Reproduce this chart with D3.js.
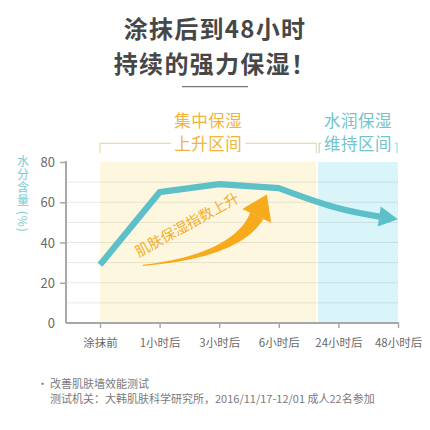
<!DOCTYPE html>
<html>
<head>
<meta charset="utf-8">
<script src="https://cdn.jsdelivr.net/npm/d3@7"></script>
<style>
  html, body { margin: 0; padding: 0; background: #fff; }
  svg { display: block; font-family: "Noto Sans CJK SC", "Noto Sans", sans-serif; }
</style>
</head>
<body>
<svg id="chart" width="430" height="430"></svg>
<script>
// data
const titleLines = ["涂抹后到48小时", "持续的强力保湿！"];
const categories = ["涂抹前", "1小时后", "3小时后", "6小时后", "24小时后", "48小时后"];
const moisture = [29, 65, 69, 67, 57, 51.5];
const yTicks = [0, 20, 40, 60, 80];
const gridValues = [10, 20, 30, 40, 50, 60, 70];
const phaseLabels = [["集中保湿", "上升区间"], ["水润保湿", "维持区间"]];
const phaseBounds = [[0, 3.63], [3.66, 5]]; // in category index units
const yLabel = "水分含量 (%)";
const arrowLabel = "肌肤保湿指数上升";
const footLines = ["改善肌肤墙效能测试", "测试机关：大韩肌肤科学研究所，2016/11/17-12/01 成人22名参加"];

const teal = "#5dbfc8", orange = "#f6aa1c";
const svg = d3.select("#chart");

const x = d3.scalePoint().domain(categories).range([100, 398]);
const xi = d3.scaleLinear().domain([0, categories.length - 1]).range([100, 398]);
const y = d3.scaleLinear().domain([0, 80]).range([323, 162]);

// title
svg.selectAll("text.title").data(titleLines).join("text")
  .attr("class", "title")
  .attr("x", 215).attr("y", (d, i) => 27 + i * 35.5)
  .attr("text-anchor", "middle").attr("dominant-baseline", "central")
  .attr("font-size", 24).attr("font-weight", 700).attr("letter-spacing", 1.3)
  .attr("fill", "#474747").text(d => d);
svg.append("line").attr("x1", 182).attr("x2", 248).attr("y1", 86.7).attr("y2", 86.7)
  .attr("stroke", "#777").attr("stroke-width", 1.3);

// phase backgrounds
const phaseFill = ["#fef7df", "#daf5f9"];
const phaseStroke = ["#f0dba6", "#a8dde3"];
const phaseText = ["#f2b43a", "#72c4cc"];
svg.selectAll("rect.phase").data(phaseBounds).join("rect")
  .attr("class", "phase")
  .attr("x", d => xi(d[0])).attr("width", d => xi(d[1]) - xi(d[0]))
  .attr("y", y(80)).attr("height", y(0) - y(80))
  .attr("fill", (d, i) => phaseFill[i]);

// brackets + labels
const by = 143.3;
phaseBounds.forEach((b, i) => {
  const x0 = xi(b[0]) + (i ? 1 : 0), x1 = xi(b[1]) - (i ? 1 : 0);
  const cx = (x0 + x1) / 2, half = 37;
  const g = svg.append("g").attr("stroke", phaseStroke[i]).attr("stroke-width", 1.2).attr("fill", "none");
  g.append("path").attr("d", `M${x0},${by + 10}V${by}H${cx - half}M${cx + half},${by}H${x1}V${by + 10}`);
  svg.selectAll(null).data(phaseLabels[i]).join("text")
    .attr("x", cx).attr("y", (d, j) => 120 + j * 23.3)
    .attr("text-anchor", "middle").attr("dominant-baseline", "central")
    .attr("font-size", 16.5).attr("letter-spacing", 0.5)
    .attr("fill", phaseText[i]).text(d => d);
});

// grid
svg.selectAll("line.grid").data(gridValues).join("line")
  .attr("class", "grid")
  .attr("x1", 66).attr("x2", 398).attr("y1", d => y(d)).attr("y2", d => y(d))
  .attr("stroke", "#000").attr("stroke-opacity", 0.09).attr("stroke-width", 1);

// axes
const yAxis = svg.append("g").attr("transform", "translate(66,0)")
  .call(d3.axisLeft(y).tickValues(yTicks).tickSize(6).tickPadding(5).tickSizeOuter(0));
const xAxis = svg.append("g").attr("transform", `translate(0,${y(0)})`)
  .call(d3.axisBottom(x).tickSize(5).tickPadding(11).tickSizeOuter(0));
[yAxis, xAxis].forEach(a => {
  a.select(".domain").attr("stroke", "#a8a8a8").attr("stroke-width", 2);
  a.selectAll(".tick line").attr("stroke", "#a8a8a8").attr("stroke-width", 1.5);
  a.selectAll("text").attr("fill", "#6a6a6a").attr("font-family", "\"Noto Sans CJK SC\", sans-serif");
});
yAxis.select(".domain").attr("d", `M0,${y(80) - 1}V${y(0)}`);
xAxis.select(".domain").attr("d", `M66,0H${x(categories[5]) + 1}`);
yAxis.selectAll("text").attr("font-size", 13).attr("dy", "0.35em");
xAxis.selectAll("text").attr("font-size", 11.5);
yAxis.selectAll(".tick").filter(d => d === 0).select("line").remove();

// y label, vertical (latin unit turns sideways)
svg.append("text")
  .attr("x", 23).attr("y", 155)
  .attr("writing-mode", "vertical-rl")
  .attr("font-size", 12).attr("letter-spacing", 1)
  .attr("fill", "#7ccbd1").text(yLabel);

// moisture line: straight rise, smooth fall
const pts = moisture.map((v, i) => [x(categories[i]), y(v)]);
const d1 = d3.line().curve(d3.curveLinear)(pts.slice(0, 4));
const d2 = d3.line().curve(d3.curveMonotoneX)(pts.slice(3));
const line = svg.append("path")
  .attr("d", d1 + d2.replace(/^M[^CL]*/, ""))
  .attr("fill", "none").attr("stroke", teal).attr("stroke-width", 6.3)
  .attr("stroke-linejoin", "round");
const L = line.node().getTotalLength();
const headLen = 19, headHalf = 10;
line.attr("stroke-dasharray", `${L - headLen + 2} ${L}`);
const pEnd = line.node().getPointAtLength(L);
const pBack = line.node().getPointAtLength(L - headLen);
const ang = Math.atan2(pEnd.y - pBack.y, pEnd.x - pBack.x);
const nx = -Math.sin(ang), ny = Math.cos(ang);
svg.append("path")
  .attr("d", d3.line()([
    [pEnd.x, pEnd.y],
    [pBack.x + nx * headHalf, pBack.y + ny * headHalf],
    [pBack.x - nx * headHalf, pBack.y - ny * headHalf]
  ]) + "Z")
  .attr("fill", teal);

// orange rising arrow (data units: [index, value])
const aTail = [0.72, 28.6], aCtrl = [2.28, 33.4], aBase = [2.63, 53.2], aTip = [2.80, 63.8];
const P = p => [xi(p[0]), y(p[1])];
const T = P(aTail), C = P(aCtrl), B = P(aBase), H = P(aTip);
const upper = [], lower = [];
d3.range(0, 1.0001, 1 / 40).forEach(t => {
  const px = (1 - t) ** 2 * T[0] + 2 * (1 - t) * t * C[0] + t * t * B[0];
  const py = (1 - t) ** 2 * T[1] + 2 * (1 - t) * t * C[1] + t * t * B[1];
  const dx = 2 * (1 - t) * (C[0] - T[0]) + 2 * t * (B[0] - C[0]);
  const dy = 2 * (1 - t) * (C[1] - T[1]) + 2 * t * (B[1] - C[1]);
  const len = Math.hypot(dx, dy);
  const w = 0.6 + 6.8 * Math.pow(t, 1.4);
  upper.push([px + dy / len * w, py - dx / len * w]);
  lower.push([px - dy / len * w, py + dx / len * w]);
});
svg.append("path").attr("d", d3.line()(upper.concat(lower.reverse())) + "Z").attr("fill", orange);
const hdx = H[0] - B[0], hdy = H[1] - B[1], hl = Math.hypot(hdx, hdy);
svg.append("path")
  .attr("d", d3.line()([H, [B[0] + hdy / hl * 16, B[1] - hdx / hl * 16], [B[0] - hdy / hl * 16, B[1] + hdx / hl * 16]]) + "Z")
  .attr("fill", orange);

svg.append("text")
  .attr("transform", `translate(${xi(1.45)},${y(49.4)}) rotate(-29)`)
  .attr("text-anchor", "middle").attr("dominant-baseline", "central")
  .attr("font-size", 14.5).attr("fill", "#f3ae2c").text(arrowLabel);

// footnote
svg.append("text").attr("x", 37).attr("y", 383).attr("dominant-baseline", "central")
  .attr("font-size", 11).attr("fill", "#777").text("•");
svg.selectAll("text.foot").data(footLines).join("text")
  .attr("class", "foot")
  .attr("x", 50).attr("y", (d, i) => 383 + i * 14.5)
  .attr("dominant-baseline", "central")
  .attr("font-size", 11).attr("fill", "#7a7a7a").text(d => d);
</script>
</body>
</html>
